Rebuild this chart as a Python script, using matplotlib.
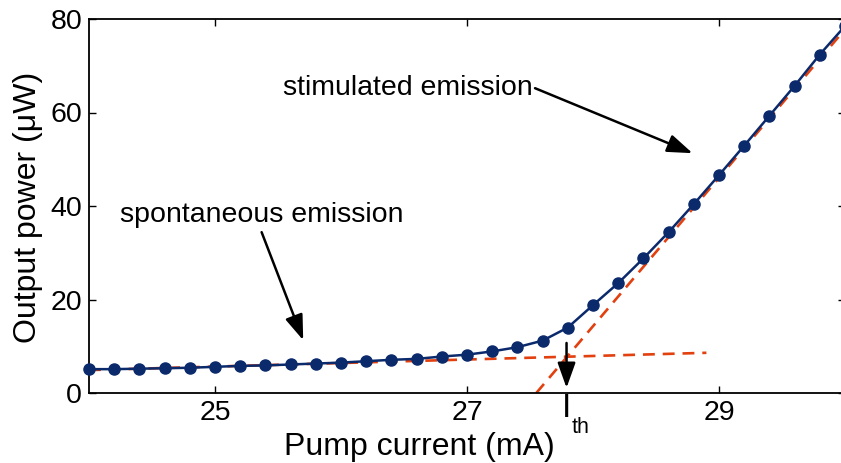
# Laser diode L-I curve: output power vs pump current with threshold fits
import numpy as np
import matplotlib.pyplot as plt

plt.rcParams['font.family'] = ['Liberation Sans', 'DejaVu Sans']

current = [24.0, 24.2, 24.4, 24.6, 24.8, 25.0, 25.2, 25.4, 25.6, 25.8,
           26.0, 26.2, 26.4, 26.6, 26.8, 27.0, 27.2, 27.4, 27.6, 27.8,
           28.0, 28.2, 28.4, 28.6, 28.8, 29.0, 29.2, 29.4, 29.6, 29.8, 30.0]
power = [5.1, 5.1, 5.2, 5.3, 5.4, 5.6, 5.8, 5.9, 6.1, 6.3,
         6.5, 6.8, 7.1, 7.3, 7.8, 8.2, 8.9, 9.8, 11.2, 14.0,
         18.8, 23.5, 28.8, 34.4, 40.4, 46.6, 52.9, 59.3, 65.7, 72.4, 78.5]

# Linear fits (end points)
spont_x = [24.0, 28.9]
spont_y = [4.9, 8.6]
stim_x = [27.55, 30.0]
stim_y = [0.0, 77.8]

x_ticks = [25, 27, 29]
y_ticks = [0, 20, 40, 60, 80]
i_th = 27.79

navy = '#0b2a6c'
red = '#e2400f'

fig = plt.figure(figsize=(8.41, 4.63), dpi=100)
ax = fig.add_axes([89 / 841, 70 / 463, (845 - 89) / 841, (393 - 19) / 463])

ax.plot(spont_x, spont_y, '--', color=red, lw=1.9, dashes=(4.5, 3), zorder=2)
ax.plot(stim_x, stim_y, '--', color=red, lw=1.9, dashes=(4.5, 3), zorder=2)
ax.plot(current, power, '-o', color=navy, lw=1.8, markersize=8,
        markerfacecolor=navy, markeredgecolor=navy, clip_on=False, zorder=3)

ax.set_xlim(24, 30)
ax.set_ylim(0, 80)
ax.set_xticks(x_ticks)
ax.set_yticks(y_ticks)
ax.tick_params(direction='in', length=5, width=1, top=True, right=True,
               labelsize=20.5, colors='k')
ax.tick_params(axis='x', pad=5)
ax.tick_params(axis='y', pad=5)
for s in ax.spines.values():
    s.set_linewidth(1.3)

ax.set_xlabel('Pump current (mA)', fontsize=23)
ax.set_ylabel('Output power (μW)', fontsize=23)
ax.xaxis.set_label_coords(0.437, -0.105)
ax.yaxis.set_label_coords(-0.061, 0.497)

# Annotations
arrow = dict(arrowstyle='-|>,head_length=0.7,head_width=0.25', color='k',
             lw=1.8, mutation_scale=22, shrinkA=0, shrinkB=0)
ax.text(26.53, 65.2, 'stimulated emission', fontsize=20.5, ha='center', va='center')
ax.annotate('', xy=(28.79, 51.3), xytext=(27.54, 65.2), arrowprops=arrow)
ax.text(25.37, 38.1, 'spontaneous emission', fontsize=20.5, ha='center', va='center')
ax.annotate('', xy=(25.70, 11.3), xytext=(25.37, 34.4), arrowprops=arrow)
ax.annotate('', xy=(i_th, 1.1), xytext=(i_th, 10.7), arrowprops=arrow)

# I_th label below the axis
ax.annotate('I', xy=(i_th, 0), xytext=(0, 0), textcoords='offset points',
            ha='center', va='top', fontsize=24, annotation_clip=False)
ax.annotate('th', xy=(i_th, 0), xytext=(3.5, -17.5), textcoords='offset points',
            ha='left', va='top', fontsize=15.5, annotation_clip=False)

fig.savefig('out.png', dpi=100)
